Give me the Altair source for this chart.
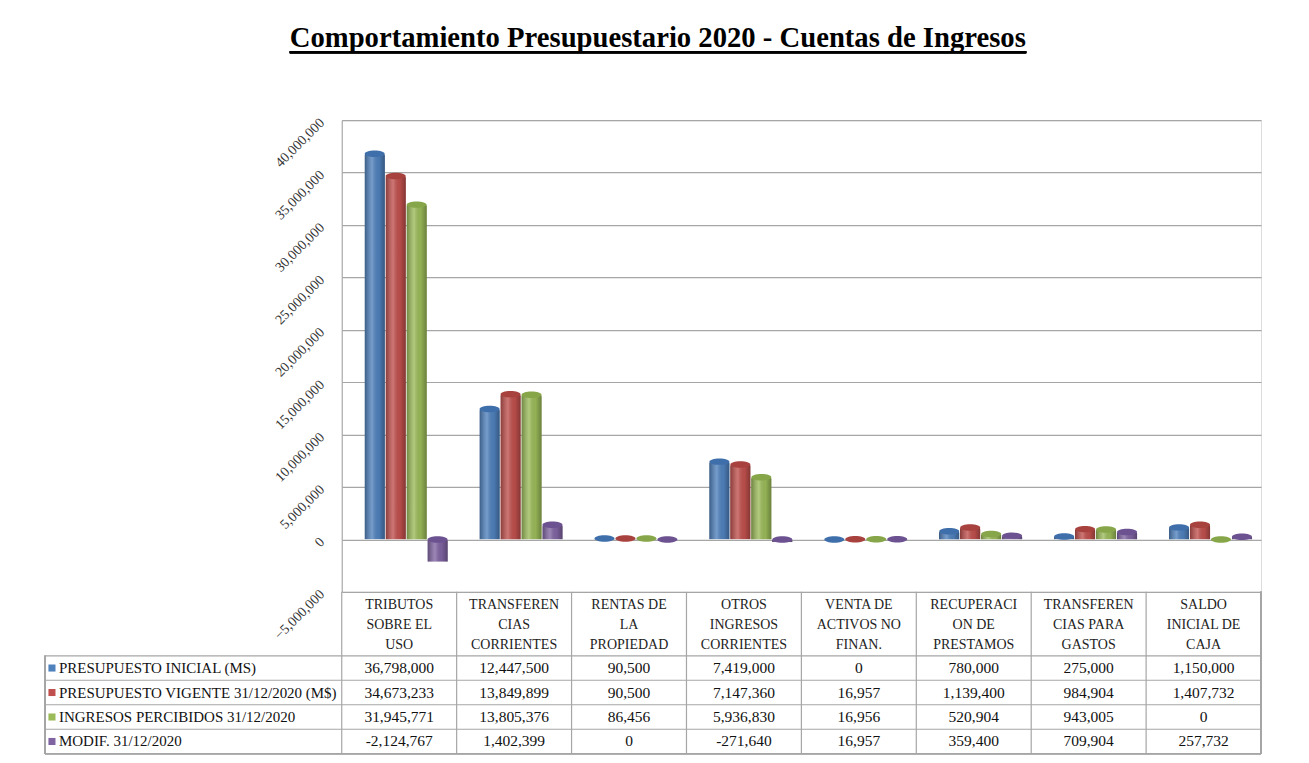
import altair as alt
import pandas as pd

# ---------------- data ----------------
categories = [
    "TRIBUTOS\nSOBRE EL\nUSO",
    "TRANSFEREN\nCIAS\nCORRIENTES",
    "RENTAS DE\nLA\nPROPIEDAD",
    "OTROS\nINGRESOS\nCORRIENTES",
    "VENTA DE\nACTIVOS NO\nFINAN.",
    "RECUPERACI\nON DE\nPRESTAMOS",
    "TRANSFEREN\nCIAS PARA\nGASTOS",
    "SALDO\nINICIAL DE\nCAJA",
]
series = [
    "PRESUPUESTO INICIAL (MS)",
    "PRESUPUESTO VIGENTE 31/12/2020 (M$)",
    "INGRESOS PERCIBIDOS 31/12/2020",
    "MODIF. 31/12/2020",
]
inicial = [36798000, 12447500, 90500, 7419000, 0, 780000, 275000, 1150000]
vigente = [34673233, 13849899, 90500, 7147360, 16957, 1139400, 984904, 1407732]
percibidos = [31945771, 13805376, 86456, 5936830, 16956, 520904, 943005, 0]
modif = [-2124767, 1402399, 0, -271640, 16957, 359400, 709904, 257732]
y_ticks = [-5000000, 0, 5000000, 10000000, 15000000, 20000000, 25000000,
           30000000, 35000000, 40000000]
colors = ["#4F81BD", "#C0504D", "#9BBB59", "#8064A2"]
cap_colors = ["#3F6FAA", "#A8423F", "#86A649", "#6C5290"]
title_text = ["Comportamiento Presupuestario 2020 - Cuentas de Ingresos"]

# ---------------- tables ----------------
rows = []
for s, vals in zip(series, [inicial, vigente, percibidos, modif]):
    for c, v in zip(categories, vals):
        rows.append({"cat": c, "series": s, "value": v, "cap": max(v, 0),
                     "label": f"{v:,}"})
df = pd.DataFrame(rows)
df_cat = pd.DataFrame({"cat": categories})
df_ser = pd.DataFrame({"series": series})
df_title = pd.DataFrame({"t": title_text})

# ---------------- layout ----------------
W, H = 920, 472
PAD_L, PAD_T, PAD_R, PAD_B = 334, 112, 40, 163
TBL_TOP = H            # header top
ROW_TOP = H + 64       # first data row top
ROW_H = 24.5
TBL_BOT = ROW_TOP + 4 * ROW_H
LEG_LEFT = -297
FONT = "Liberation Serif"
GRID = "#a6a6a6"
ELLIPSE = "M-1,0 A1,0.32 0 1,0 1,0 A1,0.32 0 1,0 -1,0 Z"

x_scale = alt.Scale(domain=categories, paddingInner=0, paddingOuter=0)
x_enc = alt.X("cat:N", sort=categories, scale=x_scale, axis=None)
row_scale = alt.Scale(domain=series, range=[ROW_TOP, TBL_BOT], paddingInner=0, paddingOuter=0)
y_scale = alt.Scale(domain=[-5000000, 40000000], nice=False)

shade = alt.LinearGradient(
    gradient="linear", x1=0, x2=1, y1=0, y2=0,
    stops=[
        alt.GradientStop(color="rgba(0,0,0,0.30)", offset=0),
        alt.GradientStop(color="rgba(255,255,255,0.22)", offset=0.38),
        alt.GradientStop(color="rgba(0,0,0,0.05)", offset=0.7),
        alt.GradientStop(color="rgba(0,0,0,0.32)", offset=1),
    ],
)

y_bar = alt.Y("value:Q", scale=y_scale,
              axis=alt.Axis(values=y_ticks, format=",d", title=None, labelAngle=315,
                            labelAlign="right", labelBaseline="middle",
                            labelFont=FONT, labelFontSize=14, labelColor="#333333",
                            labelPadding=20, ticks=False, domain=True, domainColor=GRID,
                            grid=True, gridColor=GRID, gridWidth=1.2, labelOverlap=False))
xoff = alt.XOffset("series:N", sort=series,
                   scale=alt.Scale(domain=series, paddingInner=0.02, paddingOuter=0.75,
                                   align=0.72))

bars = alt.Chart(df).mark_bar(cornerRadiusEnd=2).encode(
    x=x_enc, xOffset=xoff, y=y_bar,
    color=alt.Color("series:N", scale=alt.Scale(domain=series, range=colors), legend=None),
)
bars_shade = alt.Chart(df).mark_bar(cornerRadiusEnd=2, color=shade).encode(
    x=x_enc, xOffset=xoff, y=alt.Y("value:Q", scale=y_scale, axis=None),
)
caps = alt.Chart(df).mark_point(shape=ELLIPSE, filled=True, size=400, opacity=1,
                                strokeWidth=0).encode(
    x=x_enc, xOffset=xoff, y=alt.Y("cap:Q", scale=y_scale, axis=None),
    color=alt.Color("series:N", scale=alt.Scale(domain=series, range=cap_colors),
                    legend=None),
)

# header (category names)
header = alt.Chart(df_cat).mark_text(
    lineBreak="\n", font=FONT, fontSize=14, lineHeight=20, baseline="middle",
    color="#222222"
).encode(x=x_enc, y=alt.value(TBL_TOP + 13), text="cat:N")

# values
values = alt.Chart(df).mark_text(font=FONT, fontSize=15.5, baseline="middle",
                                 color="#111111").encode(
    x=x_enc,
    y=alt.Y("series:N", scale=row_scale, axis=None),
    text="label:N",
)

# legend column
leg_sq = alt.Chart(df_ser).mark_square(size=50, opacity=1, filled=True).encode(
    x=alt.value(LEG_LEFT + 7),
    y=alt.Y("series:N", scale=row_scale, axis=None),
    color=alt.Color("series:N", scale=alt.Scale(domain=series, range=colors), legend=None),
)
leg_txt = alt.Chart(df_ser).mark_text(font=FONT, fontSize=15, align="left",
                                      baseline="middle", color="#111111").encode(
    x=alt.value(LEG_LEFT + 14),
    y=alt.Y("series:N", scale=row_scale, axis=None),
    text="series:N",
)

# table grid
v_lines = alt.Chart(df_cat).mark_rule(color=GRID, strokeWidth=1.2).encode(
    x=alt.X("cat:N", sort=categories, bandPosition=0, scale=x_scale, axis=None),
    y=alt.value(TBL_TOP), y2=alt.value(TBL_BOT),
)
v_right = alt.Chart(df_cat).mark_rule(color=GRID, strokeWidth=1.2).encode(
    x=alt.value(W), y=alt.value(TBL_TOP), y2=alt.value(TBL_BOT))
v_left = alt.Chart(df_cat).mark_rule(color=GRID, strokeWidth=1.2).encode(
    x=alt.value(LEG_LEFT), y=alt.value(ROW_TOP), y2=alt.value(TBL_BOT))
h_lines = alt.Chart(df_ser).mark_rule(color=GRID, strokeWidth=1.2).encode(
    y=alt.Y("series:N", scale=row_scale, bandPosition=0, axis=None),
    x=alt.value(LEG_LEFT), x2=alt.value(W),
)
h_bottom = alt.Chart(df_cat).mark_rule(color=GRID, strokeWidth=1.2).encode(
    y=alt.value(TBL_BOT), x=alt.value(LEG_LEFT), x2=alt.value(W))

# title + underline
title = alt.Chart(df_title).mark_text(
    font=FONT, fontSize=28.7, fontWeight="bold", align="left", baseline="alphabetic",
    color="black"
).encode(x=alt.value(-52), y=alt.value(-73), text="t:N")
underline = alt.Chart(df_cat).mark_rule(color="black", strokeWidth=2).encode(
    x=alt.value(-52), x2=alt.value(685), y=alt.value(-68))

chart = alt.layer(
    bars, bars_shade, caps, v_lines, v_right, v_left, h_lines, h_bottom,
    header, values, leg_sq, leg_txt, title, underline,
).resolve_scale(y="independent", color="independent").properties(
    width=W, height=H,
    autosize=alt.AutoSizeParams(type="none"),
    padding={"left": PAD_L, "top": PAD_T, "right": PAD_R, "bottom": PAD_B},
).configure_view(stroke=GRID, strokeWidth=1.2).configure(background="white")

chart.save("out.html", embed_options={"renderer": "svg", "actions": False})
